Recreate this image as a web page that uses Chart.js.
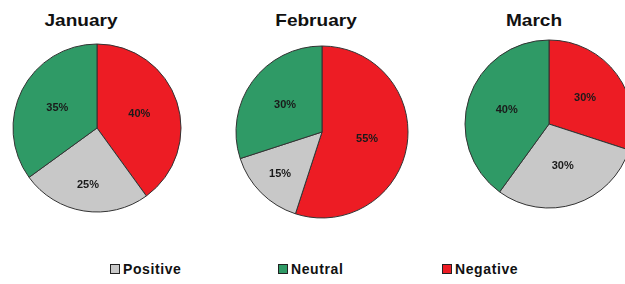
<!DOCTYPE html>
<html><head><meta charset="utf-8">
<script src="https://cdn.jsdelivr.net/npm/chart.js@4/dist/chart.umd.min.js"></script>
<style>
html,body{margin:0;padding:0;background:#fff;width:625px;height:284px;overflow:hidden;position:relative;font-family:"Liberation Sans",Arial,sans-serif;}
.title{position:absolute;top:12px;font-weight:bold;font-size:17px;line-height:17px;color:#111;white-space:nowrap;transform:translateX(-50%) scaleX(1.12);}
canvas{position:absolute;}
.leg{position:absolute;top:262px;height:14px;display:flex;align-items:center;font-weight:bold;font-size:14px;color:#111;letter-spacing:0.6px;white-space:nowrap;}
.sw{width:8px;height:8px;border:1px solid #222;margin-right:3px;}
</style>
</head><body>
<script>
// ---- data ----
const months = ["January", "February", "March"];
const sliceOrder = ["Negative", "Positive", "Neutral"];       // clockwise from 12 o'clock
const negative = [40, 55, 30];
const positive = [25, 15, 30];
const neutral  = [35, 30, 40];
const legendOrder = ["Positive", "Neutral", "Negative"];

// ---- styling / layout ----
const colors = { Negative: "#ED1C24", Positive: "#C8C8C8", Neutral: "#2F9A66" };
const pies = [
  { cx: 97,  cy: 128, r: 84, titleX: 81 },
  { cx: 322, cy: 132, r: 86, titleX: 316 },
  { cx: 549, cy: 124, r: 84, titleX: 534 }
];
const legendX = [110, 278, 442];

const labelPlugin = {
  id: "pctLabels",
  afterDatasetsDraw(chart) {
    const ctx = chart.ctx;
    const meta = chart.getDatasetMeta(0);
    const vals = chart.data.datasets[0].data;
    ctx.save();
    ctx.font = "bold 11px 'Liberation Sans', Arial, sans-serif";
    ctx.fillStyle = "#1a1a1a";
    ctx.textAlign = "center";
    ctx.textBaseline = "middle";
    meta.data.forEach((arc, i) => {
      const p = arc.getProps(["x", "y", "startAngle", "endAngle", "outerRadius"], true);
      const mid = (p.startAngle + p.endAngle) / 2;
      const f = vals[i] <= 25 ? 0.69 : 0.53;
      const x = p.x + Math.cos(mid) * p.outerRadius * f;
      const y = p.y + Math.sin(mid) * p.outerRadius * f;
      ctx.fillText(vals[i] + "%", x, y);
    });
    ctx.restore();
  }
};

months.forEach((m, k) => {
  const g = pies[k];
  const t = document.createElement("div");
  t.className = "title";
  t.style.left = g.titleX + "px";
  t.textContent = m;
  document.body.appendChild(t);

  const size = 2 * g.r + 4;
  const c = document.createElement("canvas");
  c.width = size; c.height = size;
  c.style.left = (g.cx - size / 2) + "px";
  c.style.top = (g.cy - size / 2) + "px";
  c.style.width = size + "px"; c.style.height = size + "px";
  document.body.appendChild(c);

  const vals = { Negative: negative[k], Positive: positive[k], Neutral: neutral[k] };
  new Chart(c, {
    type: "pie",
    data: {
      labels: sliceOrder,
      datasets: [{
        data: sliceOrder.map(s => vals[s]),
        backgroundColor: sliceOrder.map(s => colors[s]),
        borderColor: "#333",
        borderWidth: 1,
        hoverOffset: 0
      }]
    },
    options: {
      responsive: false,
      animation: false,
      radius: g.r,
      layout: { padding: 0 },
      plugins: { legend: { display: false }, tooltip: { enabled: false }, title: { display: false } }
    },
    plugins: [labelPlugin]
  });
});

legendOrder.forEach((s, i) => {
  const d = document.createElement("div");
  d.className = "leg";
  d.style.left = legendX[i] + "px";
  const sw = document.createElement("span");
  sw.className = "sw";
  sw.style.background = colors[s];
  const tx = document.createElement("span");
  tx.textContent = s;
  d.appendChild(sw); d.appendChild(tx);
  document.body.appendChild(d);
});
</script>
</body></html>
